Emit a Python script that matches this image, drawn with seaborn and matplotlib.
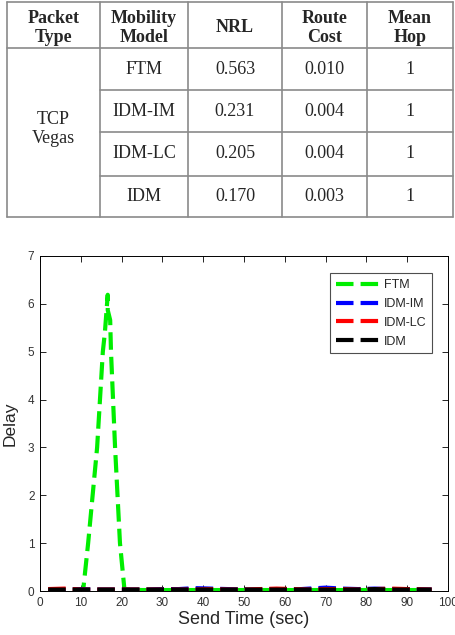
import pandas as pd
import seaborn as sns
import matplotlib.pyplot as plt

# Table values
col_headers = ['Packet\nType', 'Mobility\nModel', 'NRL', 'Route\nCost', 'Mean\nHop']
packet_type = 'TCP\nVegas'
models = ['FTM', 'IDM-IM', 'IDM-LC', 'IDM']
nrl = ['0.563', '0.231', '0.205', '0.170']
route_cost = ['0.010', '0.004', '0.004', '0.003']
mean_hop = ['1', '1', '1', '1']

# Delay curves
time_ftm = [2, 6, 10.6, 11.8, 14.0, 15.4, 15.9, 16.6, 16.6, 17.2, 17.4, 18.4, 19.6, 20.7,
            25, 30, 35, 40, 45, 50, 55, 60, 65, 70, 75, 80, 85, 90, 96]
delay_ftm = [0.02, 0.02, 0.03, 1.0, 3.0, 5.0, 5.4, 6.19, 5.87, 5.66, 5.0, 3.0, 1.0, 0.03,
             0.02, 0.02, 0.02, 0.02, 0.02, 0.02, 0.02, 0.02, 0.02, 0.02, 0.02, 0.02, 0.02, 0.02, 0.02]
time_base = [2, 6, 10, 14, 18, 22, 26, 30, 34, 38, 42, 46, 50, 54, 58, 62, 66, 70, 74,
             78, 82, 86, 90, 96]
delay_idm_im = [0.03, 0.03, 0.04, 0.03, 0.03, 0.03, 0.03, 0.04, 0.04, 0.06, 0.05, 0.04, 0.03,
                0.03, 0.04, 0.03, 0.05, 0.07, 0.05, 0.04, 0.05, 0.04, 0.04, 0.03]
delay_idm_lc = [0.04, 0.05, 0.03, 0.03, 0.03, 0.03, 0.03, 0.03, 0.03, 0.03, 0.04, 0.03, 0.03,
                0.04, 0.05, 0.04, 0.03, 0.04, 0.04, 0.03, 0.04, 0.05, 0.04, 0.03]
delay_idm = [0.03, 0.03, 0.03, 0.03, 0.03, 0.03, 0.03, 0.03, 0.03, 0.03, 0.03, 0.03, 0.03,
             0.03, 0.03, 0.03, 0.03, 0.03, 0.03, 0.03, 0.04, 0.03, 0.03, 0.03]

sns.set_style('white')
plt.rcParams['font.family'] = ['Liberation Sans', 'DejaVu Sans']

fig = plt.figure(figsize=(4.55, 6.35), dpi=100)

# ---- table ----
tax = fig.add_axes([0, 0, 1, 1])
tax.set_xlim(0, 455)
tax.set_ylim(635, 0)
tax.axis('off')
col_x = [7, 100, 188, 282, 367, 453]
row_y = [2, 48, 90, 132, 176, 217]
line_kw = dict(color='#8a8a8a', lw=1.2)
for x in col_x:
    tax.plot([x, x], [row_y[0], row_y[-1]], **line_kw)
for i, y in enumerate(row_y):
    x0 = col_x[0] if i in (0, 1, len(row_y) - 1) else col_x[1]
    tax.plot([x0, col_x[-1]], [y, y], **line_kw)

serif = ['Liberation Serif', 'DejaVu Serif']
for j, h in enumerate(col_headers):
    cx = (col_x[j] + col_x[j + 1]) / 2
    tax.text(cx, (row_y[0] + row_y[1]) / 2 + 3, h, ha='center', va='center',
             fontsize=13, fontweight='bold', family=serif, linespacing=1.12)
tax.text((col_x[0] + col_x[1]) / 2, 129, packet_type, ha='center', va='center',
         fontsize=13, family=serif, linespacing=1.15)
for i in range(len(models)):
    cy = (row_y[i + 1] + row_y[i + 2]) / 2
    for j, val in enumerate([models[i], nrl[i], route_cost[i], mean_hop[i]]):
        cx = (col_x[j + 1] + col_x[j + 2]) / 2
        tax.text(cx, cy, val, ha='center', va='center', fontsize=13, family=serif)

# ---- delay plot ----
ax = fig.add_axes([40 / 455, 1 - 591 / 635, 408 / 455, 335 / 635])
series = [
    ('FTM', time_ftm, delay_ftm, '#00ee00'),
    ('IDM-IM', time_base, delay_idm_im, '#0000ff'),
    ('IDM-LC', time_base, delay_idm_lc, '#ff0000'),
    ('IDM', time_base, delay_idm, '#000000'),
]
for name, t, d, c in series:
    df = pd.DataFrame({'Send Time': t, 'Delay': d})
    sns.lineplot(data=df, x='Send Time', y='Delay', color=c, label=name, ax=ax,
                 estimator=None, sort=False, lw=3.0)
for line in ax.lines:
    line.set_dashes((4.2, 1.7))

ax.set_xlim(0, 100)
ax.set_ylim(0, 7)
ax.set_xticks(range(0, 101, 10))
ax.set_yticks(range(0, 8))
ax.tick_params(direction='in', length=4, width=0.6, labelsize=8.5, colors='black',
               top=True, right=True, bottom=True, left=True, pad=4)
for lab in ax.get_xticklabels() + ax.get_yticklabels():
    lab.set_color('#333333')
for s in ax.spines.values():
    s.set_color('black')
    s.set_linewidth(0.7)
ax.set_xlabel('Send Time (sec)', fontsize=13, labelpad=2)
ax.set_ylabel('Delay', fontsize=12.5, labelpad=7)
leg = ax.legend(loc='upper right', bbox_to_anchor=(0.961, 0.948), fontsize=9,
                frameon=True, fancybox=False, handlelength=3.6, borderpad=0.45,
                labelspacing=0.55, handletextpad=0.25, borderaxespad=0)
leg.get_frame().set_edgecolor('#222222')
leg.get_frame().set_linewidth(0.8)

fig.savefig('out.png', dpi=100)
